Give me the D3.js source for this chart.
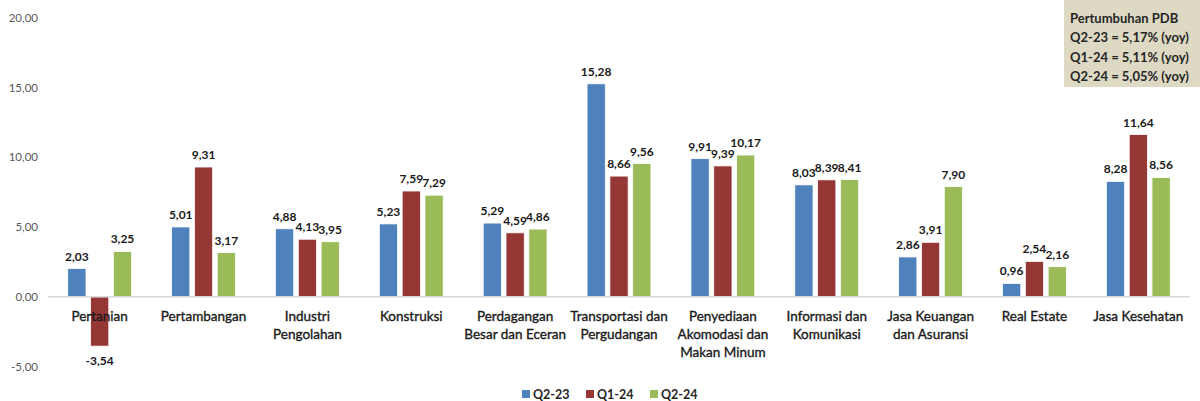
<!DOCTYPE html>
<html>
<head>
<meta charset="utf-8">
<script src="https://cdn.jsdelivr.net/npm/d3@7"></script>
<style>
  body { margin: 0; background: #fff; }
  svg { display: block; font-family: Lato, "Open Sans", sans-serif; }
</style>
</head>
<body>
<div id="chart"></div>
<script>
// data
const categories = [
  ["Pertanian"],
  ["Pertambangan"],
  ["Industri", "Pengolahan"],
  ["Konstruksi"],
  ["Perdagangan", "Besar dan Eceran"],
  ["Transportasi dan", "Pergudangan"],
  ["Penyediaan", "Akomodasi dan", "Makan Minum"],
  ["Informasi dan", "Komunikasi"],
  ["Jasa Keuangan", "dan Asuransi"],
  ["Real Estate"],
  ["Jasa Kesehatan"]
];
const seriesNames = ["Q2-23", "Q1-24", "Q2-24"];
const q223 = [2.03, 5.01, 4.88, 5.23, 5.29, 15.28, 9.91, 8.03, 2.86, 0.96, 8.28];
const q124 = [-3.54, 9.31, 4.13, 7.59, 4.59, 8.66, 9.39, 8.39, 3.91, 2.54, 11.64];
const q224 = [3.25, 3.17, 3.95, 7.29, 4.86, 9.56, 10.17, 8.41, 7.90, 2.16, 8.56];
const yTicks = [-5, 0, 5, 10, 15, 20];
const noteLines = ["Pertumbuhan PDB", "Q2-23 = 5,17% (yoy)", "Q1-24 = 5,11% (yoy)", "Q2-24 = 5,05% (yoy)"];

const colors = ["#4f81bd", "#953735", "#9bbb59"];
const allSeries = [q223, q124, q224];

const width = 1200, height = 401;
// comma decimals, plain hyphen for negatives
const fmt = v => v.toFixed(2).replace(".", ",");

const svg = d3.select('#chart')
    .append('svg')
    .attr('width', width)
    .attr('height', height);

const x = d3.scaleBand()
    .domain(d3.range(categories.length))
    .range([48, 1190])
    .paddingInner(0.385)
    .paddingOuter(0.19);
const xs = d3.scaleBand()
    .domain(d3.range(seriesNames.length))
    .range([0, x.bandwidth()])
    .paddingInner(0.2);
const y = d3.scaleLinear().domain([-5, 20]).range([366.5, 18]);

// y tick labels (no gridlines)
svg.append('g').selectAll('text')
    .data(yTicks)
    .join('text')
    .attr('x', 38)
    .attr('y', d => y(d))
    .attr('dy', '0.35em')
    .attr('text-anchor', 'end')
    .attr('font-size', 11.5)
    .attr('fill', '#595959')
    .text(d => fmt(d));

// bars
const groups = svg.append('g').selectAll('g')
    .data(categories)
    .join('g')
    .attr('transform', (d, i) => `translate(${x(i)},0)`);

allSeries.forEach((vals, s) => {
    groups.append('rect')
        .attr('x', xs(s))
        .attr('width', xs.bandwidth())
        .attr('y', (d, i) => y(Math.max(0, vals[i])))
        .attr('height', (d, i) => Math.abs(y(vals[i]) - y(0)))
        .attr('fill', colors[s])
        .attr('stroke', '#ffffff')
        .attr('stroke-width', 0.8);
});

// zero axis line
svg.append('line')
    .attr('x1', 48).attr('x2', 1190)
    .attr('y1', y(0)).attr('y2', y(0))
    .attr('stroke', '#d9d9d9')
    .attr('stroke-width', 1.5);

// value labels
allSeries.forEach((vals, s) => {
    groups.append('text')
        .attr('x', xs(s) + xs.bandwidth() / 2)
        .attr('y', (d, i) => vals[i] >= 0 ? y(vals[i]) - 8 : y(vals[i]) + 19)
        .attr('text-anchor', 'middle')
        .attr('font-size', 12)
        .attr('font-weight', 'bold')
        .attr('fill', '#1a1a1a')
        .text((d, i) => fmt(vals[i]));
});

// category labels
groups.append('text')
    .attr('text-anchor', 'middle')
    .attr('font-size', 13.5)
    .attr('fill', '#1a1a1a')
    .attr('stroke', '#1a1a1a')
    .attr('stroke-width', 0.35)
    .selectAll('tspan')
    .data(d => d)
    .join('tspan')
    .attr('x', x.bandwidth() / 2)
    .attr('y', (d, j) => 321 + j * 18)
    .text(d => d);

// legend
const legend = svg.append('g').selectAll('g')
    .data(seriesNames)
    .join('g')
    .attr('transform', (d, i) => `translate(${522 + i * 64},0)`);
legend.append('rect')
    .attr('x', 0).attr('y', 390)
    .attr('width', 8).attr('height', 8)
    .attr('fill', (d, i) => colors[i]);
legend.append('text')
    .attr('x', 11).attr('y', 398.5)
    .attr('font-size', 12.5)
    .attr('font-weight', 'bold')
    .attr('fill', '#262626')
    .text(d => d);

// note box
svg.append('rect')
    .attr('x', 1064).attr('y', 0)
    .attr('width', 136).attr('height', 87)
    .attr('fill', '#ddd9c3');
svg.append('g').selectAll('text')
    .data(noteLines)
    .join('text')
    .attr('x', 1070)
    .attr('y', (d, i) => 22.5 + i * 19.5)
    .attr('font-size', 13)
    .attr('font-weight', 'bold')
    .attr('fill', '#262626')
    .text(d => d);
</script>
</body>
</html>
